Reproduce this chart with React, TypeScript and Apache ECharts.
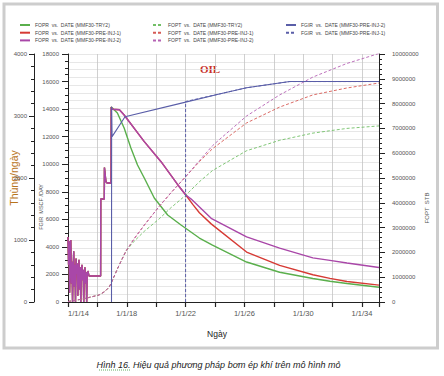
import React, { useEffect, useRef } from 'react';
import * as echarts from 'echarts';

// ---- Data (x = decimal year) ----
const foprHistory: number[][] = [
  [2014.0, 1050], [2014.04, 600], [2014.08, 980], [2014.11, 150], [2014.15, 700], [2014.19, 1000],
  [2014.23, 300], [2014.27, 650], [2014.31, 0], [2014.35, 550], [2014.39, 820], [2014.43, 250],
  [2014.47, 600], [2014.51, 0], [2014.55, 700], [2014.59, 450], [2014.63, 620], [2014.67, 100],
  [2014.71, 500], [2014.75, 680], [2014.79, 200], [2014.83, 560], [2014.87, 0], [2014.91, 480],
  [2014.95, 600], [2014.99, 350], [2015.03, 520], [2015.07, 0], [2015.11, 450], [2015.15, 560],
  [2015.19, 300], [2015.23, 480], [2015.27, 0], [2015.31, 440], [2015.35, 500], [2015.43, 420],
  [2016.22, 420], [2016.23, 1661], [2016.47, 1661], [2016.48, 2170], [2016.58, 1940],
  [2016.66, 1920], [2016.93, 1920], [2016.94, 3145],
];
const foprSharedDecline: number[][] = [
  [2017.0, 3110], [2017.5, 3100], [2017.82, 3016], [2019.19, 2586], [2020.33, 2263],
  [2021.44, 1900], [2022.0, 1730],
];
const foprTry2Tail: number[][] = [
  [2017.02, 3129], [2017.36, 3049], [2017.82, 2807], [2018.28, 2484], [2018.73, 2210],
  [2019.19, 2000], [2019.87, 1678], [2020.78, 1403], [2021.69, 1242], [2022.94, 1032],
  [2023.83, 919], [2026.15, 645], [2028.4, 480], [2030.66, 380], [2031.82, 335],
  [2032.98, 298], [2035.16, 238],
];
const foprInj1Tail: number[][] = [
  [2022.5, 1570], [2022.94, 1440], [2023.74, 1260], [2026.15, 806], [2028.4, 590],
  [2030.66, 440], [2031.82, 382], [2032.98, 330], [2035.16, 272],
];
const foprInj2Tail: number[][] = [
  [2022.38, 1660], [2023.74, 1350], [2026.15, 1050], [2028.4, 868], [2030.66, 712],
  [2031.82, 672], [2032.98, 630], [2035.16, 556],
];

const foptShared: number[][] = [
  [2014.0, 20000], [2015.0, 120000], [2016.1, 280000], [2016.5, 420000], [2016.8, 600000],
  [2016.95, 780000], [2017.45, 1450000], [2017.94, 2050000],
];
const foptSharedToInj: number[][] = [
  [2018.5, 2550000], [2019.19, 3100000], [2020.2, 3850000], [2021.0, 4400000], [2022.0, 5050000],
];
const foptTry2Tail: number[][] = [
  [2018.5, 2450000], [2019.19, 2850000], [2020.2, 3350000], [2021.0, 3800000], [2022.0, 4300000],
  [2022.94, 4850000], [2023.83, 5300000], [2026.15, 6100000], [2028.4, 6520000],
  [2030.66, 6810000], [2032.98, 7000000], [2035.16, 7100000],
];
const foptInj1Tail: number[][] = [
  [2022.94, 5660000], [2023.83, 6180000], [2026.15, 7220000], [2028.4, 7860000],
  [2030.66, 8350000], [2032.98, 8630000], [2035.16, 8830000],
];
const foptInj2Tail: number[][] = [
  [2022.94, 5700000], [2023.83, 6300000], [2024.3, 6550000], [2026.15, 7500000],
  [2028.4, 8350000], [2030.66, 9070000], [2032.98, 9620000], [2035.16, 10020000],
];

const fgirInj2: number[][] = [
  [2016.96, 0], [2016.97, 14175], [2017.0, 12000], [2017.88, 13450], [2021.58, 14400],
  [2024.3, 15100], [2026.15, 15550], [2029.09, 16000], [2035.16, 16000],
];
const fgirInj1: number[][] = [
  [2022.0, 0], [2022.0, 14550], [2024.3, 15100], [2026.15, 15550], [2029.09, 16000], [2035.16, 16000],
];

const names = {
  foprTry2: 'FOPR  vs.  DATE (MMF30-TRY2)',
  foprInj1: 'FOPR  vs.  DATE (MMF30-PRE-INJ-1)',
  foprInj2: 'FOPR  vs.  DATE (MMF30-PRE-INJ-2)',
  foptTry2: 'FOPT  vs.  DATE (MMF30-TRY2)',
  foptInj1: 'FOPT  vs.  DATE (MMF30-PRE-INJ-1)',
  foptInj2: 'FOPT  vs.  DATE (MMF30-PRE-INJ-2)',
  fgirInj2: 'FGIR  vs.  DATE (MMF30-PRE-INJ-2)',
  fgirInj1: 'FGIR  vs.  DATE (MMF30-PRE-INJ-1)',
};

const GREEN = '#5aaf4c';
const RED = '#d63a34';
const PURPLE = '#a947a8';
const BLUE = '#5a5ea8';
const GREEN_D = '#72bf66';
const RED_D = '#d65a55';
const PURPLE_D = '#b562b4';

const FONT = 'Liberation Sans';

export default function App() {
  const ref = useRef<HTMLDivElement>(null);
  useEffect(() => {
    const chart = echarts.init(ref.current!, null, { renderer: 'svg' });
    const lineSeries = (name: string, data: number[][], color: string, yAxisIndex: number, width: number, dashed: boolean) => ({
      type: 'line',
      name,
      data,
      yAxisIndex,
      symbol: 'none',
      showSymbol: false,
      lineStyle: { color, width, type: dashed ? [3, 2] : 'solid' },
      itemStyle: { color },
      z: 3,
    });
    const legendBase = {
      orient: 'vertical',
      itemWidth: 10,
      itemHeight: 7,
      itemGap: 0.7,
      padding: 0,
      itemStyle: { opacity: 0 },
      textStyle: { fontSize: 5, color: '#444', fontFamily: FONT, lineHeight: 7 },
    };
    const xFormatter = (v: number) => {
      const r = (v - 2014) / 4;
      if (Math.abs(r - Math.round(r)) < 1e-6) return '1/1/' + String(Math.round(v) % 100).padStart(2, '0');
      return '';
    };
    const option: any = {
      animation: false,
      backgroundColor: '#ffffff',
      grid: { left: 68, right: 65, top: 54, bottom: 74, containLabel: false, outerBoundsMode: 'none' },
      legend: [
        { ...legendBase, left: 19, top: 21.5, data: [names.foprTry2, names.foprInj1, names.foprInj2] },
        { ...legendBase, left: 152, top: 21.5, data: [names.foptTry2, names.foptInj1, names.foptInj2] },
        { ...legendBase, left: 285, top: 21.5, data: [names.fgirInj2, names.fgirInj1] },
      ],
      xAxis: {
        type: 'value',
        min: 2014,
        max: 2035.16,
        interval: 2,
        axisLine: { lineStyle: { color: '#222', width: 1 } },
        axisTick: { length: 5, lineStyle: { color: '#222', width: 1.2 } },
        axisLabel: { fontSize: 7.5, color: '#555', margin: 7, fontFamily: FONT, alignMinLabel: 'left', formatter: xFormatter },
        splitLine: { show: true, lineStyle: { color: '#c4c4c4', width: 0.8 } },
      },
      yAxis: [
        {
          type: 'value', position: 'left', offset: 34, min: 0, max: 4000, interval: 1000,
          axisLine: { show: true, lineStyle: { color: '#222' } },
          axisTick: { show: true, length: 5, lineStyle: { color: '#222' } },
          minorTick: { show: true, splitNumber: 5, length: 3, lineStyle: { color: '#222' } },
          axisLabel: { fontSize: 6, color: '#555', margin: 7, fontFamily: FONT, formatter: (v: number) => String(v) },
          splitLine: { show: false },
        },
        {
          type: 'value', position: 'left', offset: 0, min: 0, max: 18000, interval: 2000,
          axisLine: { show: true, lineStyle: { color: '#222' } },
          axisTick: { show: true, length: 6, lineStyle: { color: '#222' } },
          minorTick: { show: true, splitNumber: 4, length: 3, lineStyle: { color: '#222' } },
          axisLabel: { fontSize: 6, color: '#555', margin: 9, fontFamily: FONT, formatter: (v: number) => String(v) },
          splitLine: { show: false },
        },
        {
          type: 'value', position: 'right', offset: 0, min: 0, max: 10000000, interval: 1000000,
          axisLine: { show: true, lineStyle: { color: '#222' } },
          axisTick: { show: true, length: 6, lineStyle: { color: '#222' } },
          minorTick: { show: true, splitNumber: 5, length: 3, lineStyle: { color: '#222' } },
          axisLabel: { fontSize: 6, color: '#555', margin: 13, fontFamily: FONT, formatter: (v: number) => String(v) },
          splitLine: { show: false },
        },
        {
          type: 'value', position: 'right', offset: 0, min: 0, max: 32, interval: 1,
          axisLine: { show: false }, axisTick: { show: false }, axisLabel: { show: false },
          splitLine: { show: true, lineStyle: { color: '#dcdcdc', width: 0.7 } },
        },
      ],
      series: [
        lineSeries(names.foprTry2, [...foprHistory, ...foprTry2Tail], GREEN, 0, 1.4, false),
        lineSeries(names.foprInj1, [...foprHistory, ...foprSharedDecline, ...foprInj1Tail], RED, 0, 1.4, false),
        lineSeries(names.foprInj2, [...foprHistory, ...foprSharedDecline, ...foprInj2Tail], PURPLE, 0, 1.4, false),
        lineSeries(names.foptTry2, [...foptShared, ...foptTry2Tail], GREEN_D, 2, 0.9, true),
        lineSeries(names.foptInj1, [...foptShared, ...foptSharedToInj, ...foptInj1Tail], RED_D, 2, 0.9, true),
        lineSeries(names.foptInj2, [...foptShared, ...foptSharedToInj, ...foptInj2Tail], PURPLE_D, 2, 0.9, true),
        lineSeries(names.fgirInj2, fgirInj2, BLUE, 1, 1.1, false),
        lineSeries(names.fgirInj1, fgirInj1, BLUE, 1, 1.0, true),
      ],
      graphic: [
        { type: 'rect', z: -1, shape: { x: 4, y: 4, width: 433.5, height: 344 }, style: { fill: 'none', stroke: '#cdcdcd', lineWidth: 3 } },
        { type: 'text', x: 200, y: 69, style: { text: 'OIL', fill: '#c8302c', font: 'bold 11px "Liberation Serif"', verticalAlign: 'middle', align: 'left' } },
        { type: 'text', x: 14, y: 178, rotation: Math.PI / 2, style: { text: 'Thùng/ngày', fill: '#b8741c', font: `10.5px "${FONT}"`, align: 'center', verticalAlign: 'middle' } },
        { type: 'text', x: 40.5, y: 207, rotation: Math.PI / 2, style: { text: 'FGIR  MSCF /DAY', fill: '#555', font: `5.5px "${FONT}"`, align: 'center', verticalAlign: 'middle' } },
        { type: 'text', x: 427, y: 208, rotation: Math.PI / 2, style: { text: 'FOPT  STB', fill: '#555', font: `6px "${FONT}"`, align: 'center', verticalAlign: 'middle' } },
        { type: 'text', x: 217, y: 334, style: { text: 'Ngày', fill: '#222', font: `8.5px "${FONT}"`, align: 'center', verticalAlign: 'middle' } },
        { type: 'text', x: 218.5, y: 365, style: { text: 'Hình 16. Hiệu quả phương pháp bơm ép khí trên mô hình mỏ', fill: '#222', font: `italic 9px "${FONT}"`, align: 'center', verticalAlign: 'middle' } },
        { type: 'line', shape: { x1: 99, y1: 370, x2: 130, y2: 370 }, style: { stroke: '#3a9a3a', lineWidth: 0.8, lineDash: [1, 1] } },
      ],
    };
    chart.setOption(option);
    return () => chart.dispose();
  }, []);
  return <div ref={ref} style={{ position: 'absolute', left: 0, top: 0, width: 444, height: 376, background: '#fff' }} />;
}
